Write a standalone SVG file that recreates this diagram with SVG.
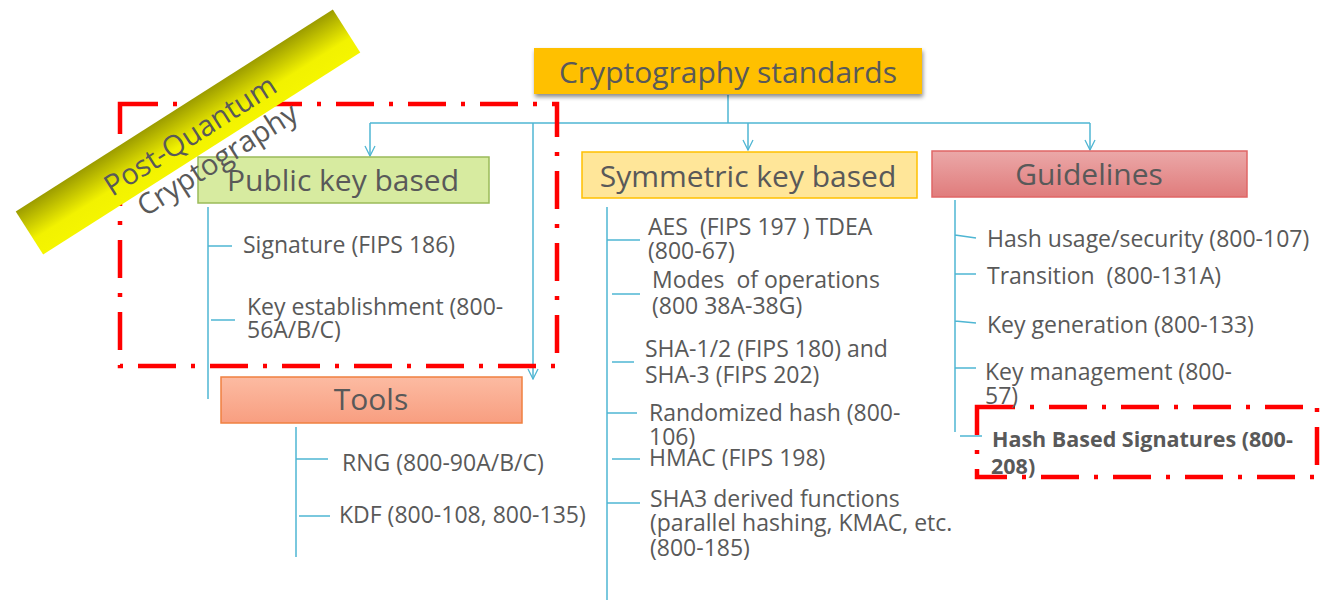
<svg xmlns="http://www.w3.org/2000/svg" width="1327" height="600" viewBox="0 0 1327 600">
<defs>
<style>
.hdr{font-family:"Open Sans","Liberation Sans",sans-serif;font-size:30px;fill:#595959;text-anchor:middle}
.itm{font-family:"Open Sans","Liberation Sans",sans-serif;font-size:23px;fill:#595959;white-space:pre}
.bld{font-family:"Open Sans","Liberation Sans",sans-serif;font-size:21.5px;font-weight:bold;fill:#595959}
.ban{font-family:"Open Sans","Liberation Sans",sans-serif;font-size:29px;fill:#595959;text-anchor:middle}
.cn{stroke:#4FB6D3;stroke-width:1.5;fill:none}
.pq{fill:none;stroke:#FF0000;stroke-width:4.5;stroke-dasharray:38 15 4 15}
</style>
<marker id="ah" viewBox="-11 -6 12 12" refX="0" refY="0" markerWidth="12" markerHeight="12" markerUnits="userSpaceOnUse" orient="auto">
<path d="M-10,-5 L0,0 L-10,5" fill="none" stroke="#4FB6D3" stroke-width="1.3"/>
</marker>
<linearGradient id="gGuid" x1="0" y1="0" x2="0" y2="1"><stop offset="0" stop-color="#EBA8A8"/><stop offset="1" stop-color="#E07C7C"/></linearGradient>
<linearGradient id="gTools" x1="0" y1="0" x2="0" y2="1"><stop offset="0" stop-color="#FCBBA2"/><stop offset="1" stop-color="#F89E80"/></linearGradient>
<linearGradient id="gBan" x1="0" y1="0" x2="0" y2="1"><stop offset="0" stop-color="#9C9C00"/><stop offset="0.65" stop-color="#F2F200"/><stop offset="1" stop-color="#F5F500"/></linearGradient>
<filter id="sh" x="-10%" y="-20%" width="120%" height="160%"><feDropShadow dx="1" dy="3" stdDeviation="2" flood-color="#000" flood-opacity="0.45"/></filter>
</defs>
<rect width="1327" height="600" fill="#FFFFFF"/>

<g id="connectors">
<path class="cn" d="M728,95 V123 M370,123 H1090"/>
<path class="cn" d="M370,123 V156" marker-end="url(#ah)"/>
<path class="cn" d="M533,123 V379" marker-end="url(#ah)"/>
<path class="cn" d="M748,123 V150" marker-end="url(#ah)"/>
<path class="cn" d="M1090,123 V150" marker-end="url(#ah)"/>
<path class="cn" d="M208,207 V399 M208,246 H232 M211,320 H235"/>
<path class="cn" d="M296,427 V557 M296,459 H328 M299,516 H330"/>
<path class="cn" d="M607,207 V600 M607,240 H640 M612,294 H640 M612,362 H634 M607,413 H637 M612,459 H640 M607,503 H640"/>
<path class="cn" d="M955,200 V432 M955,235 L976,238 M955,274 H976 M955,321 L976,323 M955,368 H976 M960,436 H982"/>
</g>

<g id="pq-box"><rect class="pq" x="120" y="104" width="437" height="262"/></g>
<g id="hbs-box"><rect class="pq" x="977" y="407" width="340" height="70"/></g>

<g id="root">
<rect x="534" y="48" width="388" height="46" fill="#FFC000" filter="url(#sh)"/>
<text class="hdr" x="728" y="83">Cryptography standards</text>
</g>

<g id="public-key">
<rect x="198" y="157" width="291" height="46" fill="#D7EBA0" stroke="#9BBB59" stroke-width="1.5"/>
<text class="hdr" x="343" y="191">Public key based</text>
<text class="itm" x="243" y="253">Signature (FIPS 186)</text>
<text class="itm" x="247" y="315">Key establishment (800-</text>
<text class="itm" x="247" y="338">56A/B/C)</text>
</g>

<g id="symmetric">
<rect x="582" y="152" width="335" height="46" fill="#FFE699" stroke="#FFC000" stroke-width="1.5"/>
<text class="hdr" x="748" y="187">Symmetric key based</text>
<text class="itm" x="648" y="235" xml:space="preserve">AES  (FIPS 197 ) TDEA</text>
<text class="itm" x="648" y="259">(800-67)</text>
<text class="itm" x="652" y="288" xml:space="preserve">Modes  of operations</text>
<text class="itm" x="652" y="314">(800 38A-38G)</text>
<text class="itm" x="645" y="357">SHA-1/2 (FIPS 180) and</text>
<text class="itm" x="645" y="383">SHA-3 (FIPS 202)</text>
<text class="itm" x="649" y="421">Randomized hash (800-</text>
<text class="itm" x="649" y="445">106)</text>
<text class="itm" x="649" y="466">HMAC (FIPS 198)</text>
<text class="itm" x="650" y="507">SHA3 derived functions</text>
<text class="itm" x="650" y="531">(parallel hashing, KMAC, etc.</text>
<text class="itm" x="650" y="556">(800-185)</text>
</g>

<g id="guidelines">
<rect x="932" y="151" width="315" height="46" fill="url(#gGuid)" stroke="#E06666" stroke-width="1.5"/>
<text class="hdr" x="1089" y="185">Guidelines</text>
<text class="itm" x="987" y="247">Hash usage/security (800-107)</text>
<text class="itm" x="987" y="284" xml:space="preserve">Transition  (800-131A)</text>
<text class="itm" x="987" y="333">Key generation (800-133)</text>
<text class="itm" x="985" y="380">Key management (800-</text>
<text class="itm" x="985" y="404">57)</text>
<text class="bld" x="992" y="447">Hash Based Signatures (800-</text>
<text class="bld" x="991" y="474">208)</text>
</g>

<g id="tools">
<rect x="221" y="377" width="301" height="46" fill="url(#gTools)" stroke="#F08040" stroke-width="1.5"/>
<text class="hdr" x="371" y="410">Tools</text>
<text class="itm" x="342" y="471">RNG (800-90A/B/C)</text>
<text class="itm" x="339" y="523">KDF (800-108, 800-135)</text>
</g>

<g id="pq-banner" transform="translate(188,132) rotate(-32.5)">
<rect x="-188" y="-25.5" width="376" height="51" fill="url(#gBan)"/>
<text class="ban" x="0" y="14">Post-Quantum</text>
<text class="ban" x="10" y="49">Cryptography</text>
</g>
</svg>
